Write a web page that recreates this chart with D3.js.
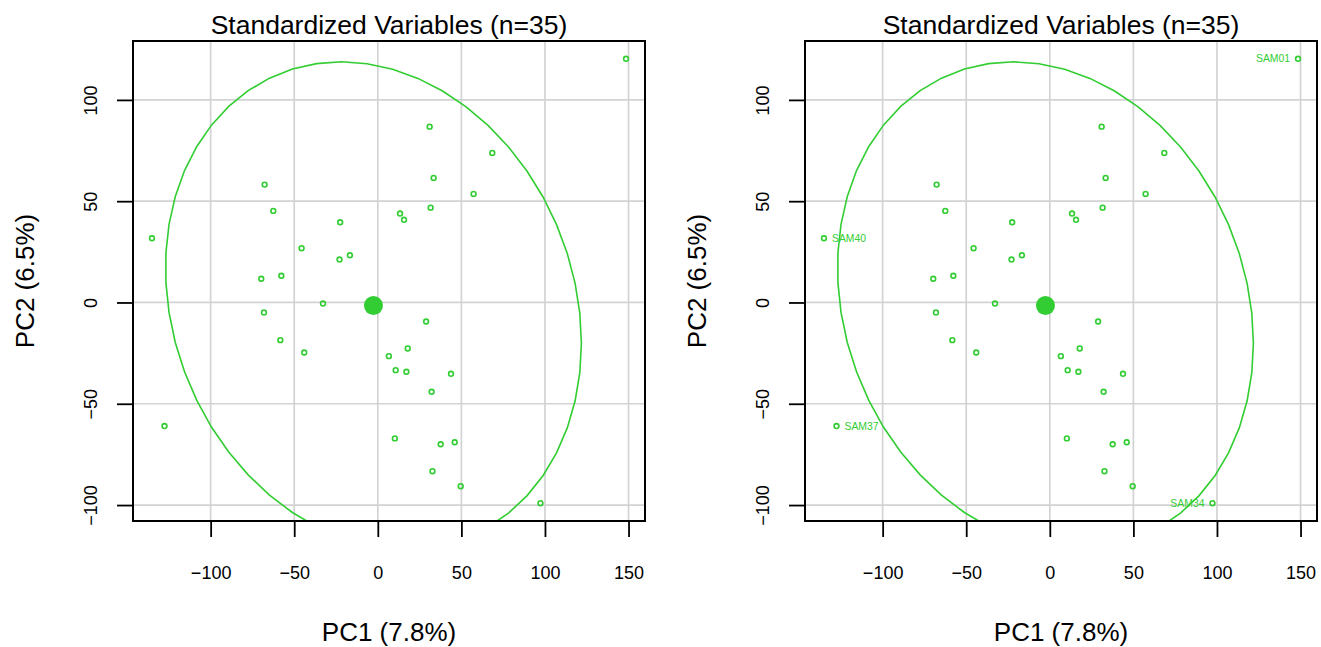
<!DOCTYPE html>
<html>
<head>
<meta charset="utf-8">
<script src="https://cdn.jsdelivr.net/npm/d3@7"></script>
<style>
  html, body { margin: 0; padding: 0; background: #fff; }
  svg { display: block; font-family: "Liberation Sans", Arial, Helvetica, sans-serif; }
</style>
</head>
<body>
<svg id="chart" width="1321" height="647"></svg>
<script>
// PCA scores (standardized variables), one entry per sample
const pc1 = [148.5, 31.0, 68.5, 33.4, 57.3, -67.7, -62.5, 31.6, 13.3, 15.7,
             -22.5, -135.1, -45.6, -22.9, -16.7, -69.7, -57.7, -32.8, -68.1, 28.9,
             -58.3, -44.0, 17.9, 6.6, 10.7, 17.1, 43.8, 32.2, -127.6, 10.2,
             37.6, 46.0, 32.7, 49.6, 97.3];
const pc2 = [120.3, 86.8, 73.8, 61.5, 53.6, 58.2, 45.2, 46.8, 43.9, 40.8,
             39.6, 31.7, 26.8, 21.2, 23.3, 11.7, 13.2, -0.5, -4.9, -9.4,
             -18.6, -24.7, -22.7, -26.5, -33.4, -34.2, -35.2, -44.1, -61.0, -67.1,
             -70.0, -69.0, -83.3, -90.7, -99.1];
// Sample names shown on the labelled panel (blank = not labelled)
const pointLabels = ["SAM01", "", "", "", "", "", "", "", "", "",
                     "", "SAM40", "", "", "", "", "", "", "", "",
                     "", "", "", "", "", "", "", "", "SAM37", "",
                     "", "", "", "", "SAM34"];

// Group centroid and the covariance that shapes its ellipse
const centroidPC1 = -2.6;
const centroidPC2 = -1.5;
const ellipseVarPC1 = 15475;
const ellipseVarPC2 = 14472;
const ellipseCovar = -2318;

const xTicks = [-100, -50, 0, 50, 100, 150];
const yTicks = [-100, -50, 0, 50, 100];
const chartTitle = "Standardized Variables (n=35)";
const xTitle = "PC1 (7.8%)";
const yTitle = "PC2 (6.5%)";

const green = "#32CD32";
const svg = d3.select("#chart");

// R-style 4% padding around the data range
function padded(values) {
  const [lo, hi] = d3.extent(values);
  const p = (hi - lo) * 0.04;
  return [lo - p, hi + p];
}
const xDomain = padded(pc1);
const yDomain = padded(pc2);

const points = pc1.map((v, i) => ({ x: v, y: pc2[i], label: pointLabels[i] }));

// Ellipse outline from the Cholesky factor of the covariance
const la = Math.sqrt(ellipseVarPC1);
const lb = ellipseCovar / la;
const lc = Math.sqrt(ellipseVarPC2 - lb * lb);
const ellipsePts = d3.range(52).map(k => {
  const t = 2 * Math.PI * k / 51;
  return [centroidPC1 + la * Math.cos(t), centroidPC2 + lb * Math.cos(t) + lc * Math.sin(t)];
});

function drawPanel(left, withLabels, id) {
  const box = { left: left, right: left + 512, top: 41, bottom: 521 };
  const x = d3.scaleLinear().domain(xDomain).range([box.left, box.right]);
  const y = d3.scaleLinear().domain(yDomain).range([box.bottom, box.top]);
  const g = svg.append("g");

  g.append("clipPath").attr("id", id)
    .append("rect")
    .attr("x", box.left).attr("y", box.top)
    .attr("width", box.right - box.left).attr("height", box.bottom - box.top);

  // grid
  g.append("g").selectAll("line.vx").data(xTicks).join("line")
    .attr("x1", d => x(d)).attr("x2", d => x(d))
    .attr("y1", box.top).attr("y2", box.bottom)
    .attr("stroke", "#D3D3D3").attr("stroke-width", 1.7);
  g.append("g").selectAll("line.hy").data(yTicks).join("line")
    .attr("y1", d => y(d)).attr("y2", d => y(d))
    .attr("x1", box.left).attr("x2", box.right)
    .attr("stroke", "#D3D3D3").attr("stroke-width", 1.7);

  // ellipse
  g.append("path")
    .attr("clip-path", `url(#${id})`)
    .attr("d", d3.line().x(d => x(d[0])).y(d => y(d[1]))(ellipsePts))
    .attr("fill", "none").attr("stroke", green).attr("stroke-width", 1.6);

  // samples
  g.append("g").selectAll("circle").data(points).join("circle")
    .attr("cx", d => x(d.x)).attr("cy", d => y(d.y))
    .attr("r", 2.4)
    .attr("fill", "none").attr("stroke", green).attr("stroke-width", 1.6);

  if (withLabels) {
    g.append("g").selectAll("text").data(points.filter(d => d.label)).join("text")
      .attr("x", d => d.x > centroidPC1 ? x(d.x) - 8 : x(d.x) + 8)
      .attr("y", d => y(d.y))
      .attr("dy", "0.35em")
      .attr("text-anchor", d => d.x > centroidPC1 ? "end" : "start")
      .attr("font-size", 10.4)
      .attr("fill", green)
      .text(d => d.label);
  }

  // centroid
  g.append("circle")
    .attr("cx", x(centroidPC1)).attr("cy", y(centroidPC2))
    .attr("r", 9.5).attr("fill", green);

  // box
  g.append("rect")
    .attr("x", box.left).attr("y", box.top)
    .attr("width", box.right - box.left).attr("height", box.bottom - box.top)
    .attr("fill", "none").attr("stroke", "#000").attr("stroke-width", 2);

  // x axis
  const xa = g.append("g")
    .attr("transform", `translate(0,${box.bottom})`)
    .call(d3.axisBottom(x).tickValues(xTicks).tickSize(16).tickSizeOuter(0)
      .tickFormat(d => d < 0 ? "\u2212" + Math.abs(d) : d));
  xa.select(".domain").remove();
  xa.selectAll(".tick line").attr("stroke", "#000").attr("stroke-width", 1.8);
  xa.selectAll(".tick text").attr("y", 58).attr("dy", 0)
    .attr("font-size", 18).attr("fill", "#000").attr("font-family", null);

  // y axis (rotated labels)
  const ya = g.append("g")
    .attr("transform", `translate(${box.left},0)`)
    .call(d3.axisLeft(y).tickValues(yTicks).tickSize(16).tickSizeOuter(0)
      .tickFormat(d => d < 0 ? "\u2212" + Math.abs(d) : d));
  ya.select(".domain").remove();
  ya.selectAll(".tick line").attr("stroke", "#000").attr("stroke-width", 1.8);
  ya.selectAll(".tick text")
    .attr("x", null).attr("dy", null).attr("font-family", null)
    .attr("transform", "translate(-36,0) rotate(-90)")
    .attr("text-anchor", "middle").attr("y", 0)
    .attr("font-size", 18).attr("fill", "#000");

  const cx = (box.left + box.right) / 2;
  const cy = (box.top + box.bottom) / 2;

  g.append("text").attr("x", cx).attr("y", 34)
    .attr("text-anchor", "middle").attr("font-size", 26.5).text(chartTitle);
  g.append("text").attr("x", cx).attr("y", 641)
    .attr("text-anchor", "middle").attr("font-size", 26).text(xTitle);
  g.append("text")
    .attr("transform", `translate(${box.left - 99},${cy}) rotate(-90)`)
    .attr("text-anchor", "middle").attr("font-size", 26).text(yTitle);
}

drawPanel(133, false, "clipL");
drawPanel(805, true, "clipR");
</script>
</body>
</html>
